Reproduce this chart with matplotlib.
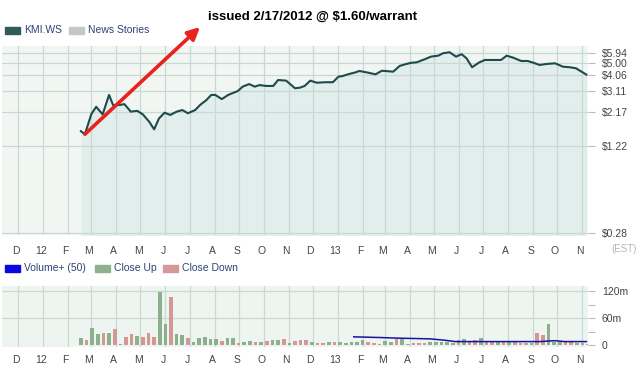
#!/usr/bin/env python

import pandas
import matplotlib
matplotlib.use('Agg')
import matplotlib.pyplot
import matplotlib.ticker
from matplotlib.patches import Rectangle

# ------------------------------------------------------------------------------
# Data
#
price_dates = ['2012-02-17', '2012-02-22', '2012-03-01', '2012-03-07',
               '2012-03-15', '2012-03-23', '2012-03-28', '2012-04-05',
               '2012-04-11', '2012-04-19', '2012-04-27', '2012-05-04',
               '2012-05-12', '2012-05-18', '2012-05-24', '2012-05-31',
               '2012-06-07', '2012-06-15', '2012-06-22', '2012-06-29',
               '2012-07-08', '2012-07-14', '2012-07-22', '2012-07-28',
               '2012-08-02', '2012-08-10', '2012-08-18', '2012-08-30',
               '2012-09-05', '2012-09-13', '2012-09-20', '2012-09-26',
               '2012-10-04', '2012-10-13', '2012-10-19', '2012-10-29',
               '2012-11-09', '2012-11-15', '2012-11-21', '2012-11-28',
               '2012-12-06', '2012-12-16', '2012-12-26', '2013-01-02',
               '2013-01-07', '2013-01-15', '2013-01-22', '2013-01-28',
               '2013-02-06', '2013-02-17', '2013-02-25', '2013-03-11',
               '2013-03-19', '2013-03-27', '2013-04-03', '2013-04-09',
               '2013-04-19', '2013-04-27', '2013-05-06', '2013-05-12',
               '2013-05-20', '2013-05-28', '2013-06-04', '2013-06-10',
               '2013-06-17', '2013-06-26', '2013-07-03', '2013-07-13',
               '2013-07-23', '2013-07-30', '2013-08-07', '2013-08-17',
               '2013-08-25', '2013-09-01', '2013-09-09', '2013-09-17',
               '2013-09-28', '2013-10-08', '2013-10-16', '2013-10-24',
               '2013-10-29', '2013-11-06']
prices = [1.58, 1.50, 2.11, 2.39, 2.10, 2.92, 2.46, 2.46, 2.50, 2.20, 2.23,
          2.10, 1.85, 1.63, 1.96, 2.16, 2.08, 2.20, 2.26, 2.14, 2.26, 2.46,
          2.68, 2.92, 2.92, 2.72, 2.92, 3.12, 3.36, 3.51, 3.36, 3.45, 3.40,
          3.40, 3.76, 3.72, 3.27, 3.30, 3.40, 3.72, 3.59, 3.62, 3.62, 3.98,
          4.02, 4.16, 4.26, 4.38, 4.28, 4.14, 4.40, 4.33, 4.77, 4.93, 5.04,
          5.07, 5.34, 5.59, 5.68, 5.92, 6.02, 5.59, 5.82, 5.44, 4.67, 5.07,
          5.28, 5.28, 5.28, 5.68, 5.49, 5.19, 5.19, 5.04, 4.85, 4.93, 4.99,
          4.71, 4.67, 4.59, 4.40, 4.12]

# Weekly volume in millions, first week ending 2012-02-17
volume_start = '2012-02-17'
volumes = [15, 12, 38, 25, 26, 27, 36, 3, 18, 25, 20, 18, 26, 18, 117, 48,
           106, 25, 22, 15, 8, 15, 18, 14, 13, 10, 16, 16, 5, 8, 9, 6, 6, 9,
           11, 12, 13, 5, 10, 11, 11, 8, 5, 4, 8, 6, 7, 5, 6, 6, 11, 6, 5, 3,
           10, 7, 14, 15, 3, 5, 5, 5, 6, 7, 7, 7, 5, 11, 13, 8, 11, 15, 7, 10,
           8, 10, 8, 6, 5, 5, 5, 26, 22, 47, 6, 7, 6, 7, 5, 5, 3]
close_up = [1, 0, 1, 1, 0, 1, 0, 1, 0, 0, 1, 0, 0, 0, 1, 1, 0, 1, 1, 0, 1,
            1, 1, 1, 1, 0, 1, 1, 0, 1, 1, 0, 1, 0, 1, 1, 0, 1, 0, 0, 0, 1,
            0, 0, 1, 0, 1, 1, 1, 1, 1, 0, 0, 0, 1, 1, 0, 1, 0, 0, 0, 0, 1,
            1, 1, 1, 1, 0, 1, 0, 0, 1, 0, 0, 1, 0, 1, 0, 0, 0, 1, 0, 0, 1,
            1, 1, 0, 0, 1, 0, 0]

# 50 day average volume line (millions)
avg_dates = ['2013-01-21', '2013-02-22', '2013-03-19', '2013-04-26',
             '2013-05-14', '2013-05-27', '2013-07-21', '2013-09-09',
             '2013-09-28', '2013-10-10', '2013-11-06']
avg_volume = [18.5, 17, 15.5, 14, 11, 8, 8, 8, 10, 8, 8]

price_ticks = [0.28, 1.22, 2.17, 3.11, 4.06, 5.00, 5.94]
month_labels = ['D', '12', 'F', 'M', 'A', 'M', 'J', 'J', 'A', 'S', 'O', 'N',
                'D', '13', 'F', 'M', 'A', 'M', 'J', 'J', 'A', 'S', 'O', 'N']

# ------------------------------------------------------------------------------
# Setup
#
matplotlib.rcParams['font.family'] = 'Liberation Sans'
grid_color = '#c8d9d4'
label_color = '#444444'

pdates = pandas.to_datetime(price_dates)
vdates = pandas.date_range(volume_start, periods=len(volumes), freq='7D')
adates = pandas.to_datetime(avg_dates)
months = pandas.date_range('2011-12-01', periods=len(month_labels), freq='MS')
label_pos = months - pandas.Timedelta(days=3)
xlim = (pandas.Timestamp('2011-11-11'), pandas.Timestamp('2013-11-08'))

fig = matplotlib.pyplot.figure(figsize=(6.4, 3.71), dpi=100)
ax1 = fig.add_axes([2 / 640, 1 - 235 / 371, 586 / 640, 189 / 371])
ax2 = fig.add_axes([2 / 640, 1 - 347 / 371, 586 / 640, 61 / 371])


def style_axes(ax):
    ax.set_xlim(xlim)
    for s in ax.spines.values():
        s.set_visible(False)
    ax.set_xticks(months)
    ax.set_xticklabels([])
    ax.set_xticks(label_pos, month_labels, minor=True)
    ax.tick_params(axis='x', which='both', length=0, labelsize=7.5,
                   labelcolor=label_color, pad=8)
    ax.xaxis.grid(True, color=grid_color, lw=0.9)
    ax.yaxis.tick_right()
    ax.tick_params(axis='y', which='major', length=5, color='#bbbbbb',
                   labelsize=7.5, labelcolor=label_color, pad=5)


# ------------------------------------------------------------------------------
# Price panel
#
ax1.set_facecolor('#f1f6f3')
ax1.set_yscale('log')
ax1.fill_between(pdates, prices, 0.2, color='#e2eeeb', lw=0, zorder=1)
ax1.plot(pdates, prices, color='#1e4a4a', lw=1.5, zorder=3)
ax1.set_ylim(0.272, 6.69)
style_axes(ax1)
ax1.set_axisbelow(False)
ax1.set_yticks(price_ticks, ['$%.2f' % p for p in price_ticks])
ax1.yaxis.set_minor_locator(matplotlib.ticker.NullLocator())
ax1.yaxis.grid(True, color=grid_color, lw=0.9)

# ------------------------------------------------------------------------------
# Volume panel
#
ax2.set_facecolor('#eef5f0')
style_axes(ax2)
ax2.set_axisbelow(True)
for level in [60, 120]:
    ax2.axhline(level, color=grid_color, lw=0.9, zorder=0.5)
bar_colors = ['#8cb08c' if u else '#d69696' for u in close_up]
ax2.bar(vdates, volumes, width=4.5, color=bar_colors, zorder=2)
ax2.plot(adates, avg_volume, color='#1414a0', lw=1.1, zorder=3)
ax2.set_ylim(-4, 131)
ax2.set_yticks([0, 30, 60, 90, 120], ['0', '', '60m', '', '120m'])
ax2.tick_params(axis='x', which='both', pad=6)

# ------------------------------------------------------------------------------
# Legends, title and arrow
#
def legend_item(x, y, color, text, text_color):
    fig.patches.append(Rectangle((x / 640, 1 - (y + 4) / 371), 15 / 640,
                                 7 / 371, transform=fig.transFigure,
                                 color=color))
    fig.text((x + 19) / 640, 1 - y / 371, text, fontsize=7.5,
             color=text_color, va='center')


legend_item(5, 30, '#2f5c5a', 'KMI.WS', '#2a4575')
legend_item(69, 30, '#c3c8c6', 'News Stories', '#2a4575')
legend_item(5, 268, '#0a0ae0', 'Volume+ (50)', '#2a4575')
legend_item(95, 268, '#8fb18f', 'Close Up', '#2a4575')
legend_item(163, 268, '#d49a9a', 'Close Down', '#2a4575')

fig.text(624 / 640, 1 - 249 / 371, '(EST)', fontsize=7, color='#b5b5b5',
         ha='center', va='center')
fig.text(208 / 640, 1 - 17 / 371, 'issued 2/17/2012 @ $1.60/warrant',
         fontsize=9.5, fontweight='bold', va='center')

ax1.annotate('', xy=(200 / 640, 1 - 27 / 371), xycoords='figure fraction',
             xytext=(pandas.Timestamp('2012-02-22'), 1.50), textcoords='data',
             arrowprops=dict(arrowstyle='-|>', color='#e8221c', lw=2.6,
                             mutation_scale=18, shrinkA=0, shrinkB=0),
             zorder=5)

fig.savefig('out.png', dpi=100)
